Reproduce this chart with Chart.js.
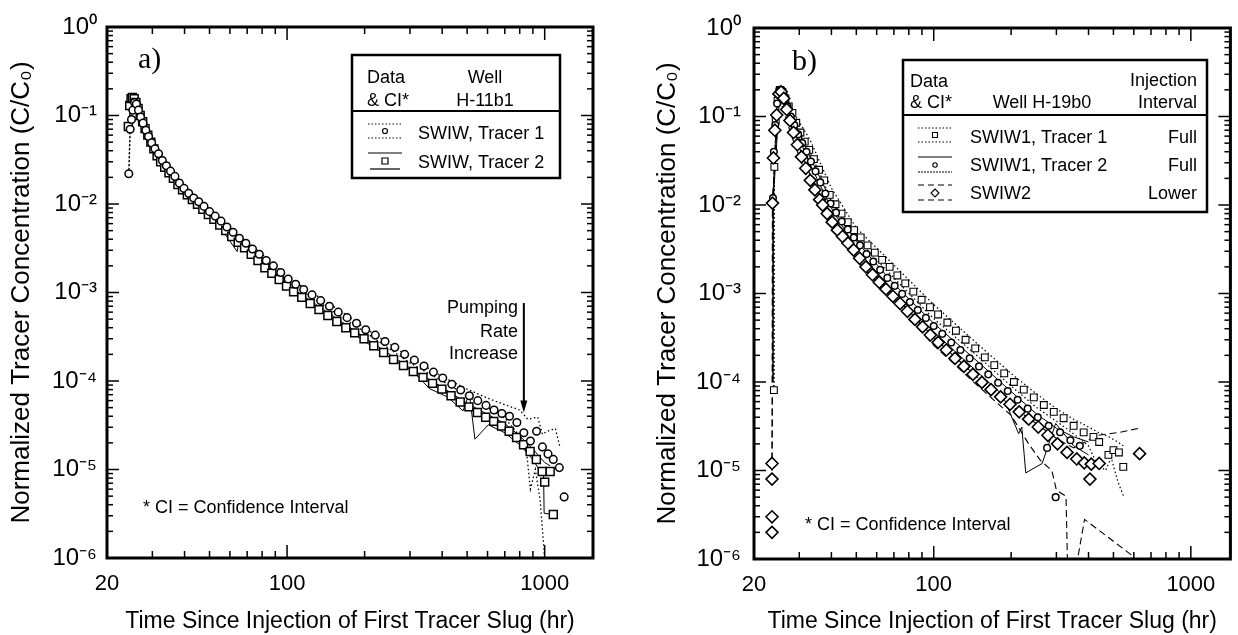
<!DOCTYPE html>
<html>
<head>
<meta charset="utf-8">
<script src="https://cdn.jsdelivr.net/npm/chart.js@4.4.1/dist/chart.umd.min.js"></script>
<style>
  body { margin: 0; background: #fff; }
  #wrap { position: relative; width: 1238px; height: 635px; }
  canvas { position: absolute; top: 0; }
</style>
</head>
<body>
<div id="wrap">
  <canvas id="chartA" width="619" height="635" style="left:0"></canvas>
  <canvas id="chartB" width="619" height="635" style="left:619px"></canvas>
</div>
<script>
// ---- tick labels and titles ----
const xTickLabels = [20, 100, 1000];
const yTickLabels = [1e-6, 1e-5, 1e-4, 1e-3, 1e-2, 1e-1, 1];
const xTitle = 'Time Since Injection of First Tracer Slug (hr)';
const yTitle = 'Normalized Tracer Concentration (C/C\u2080)';

// ---- panel a) well H-11b1 : [time hr, C/C0] ----
const aTracer1 = [[24.3,0.022],[24.6,0.07],[24.9,0.09],[25.2,0.115],[25.6,0.14],[26.0,0.135],[26.5,0.115],[27.0,0.096],
  [27.6,0.082],[28.3,0.068],[29.0,0.058],[29.8,0.049],[30.7,0.042],[31.7,0.037],[32.8,0.031],[34.0,0.027],[35.3,0.0235],
  [36.7,0.0205],[38.2,0.0172],[39.8,0.015],[41.5,0.0132],[43.4,0.0117],[45.4,0.0106],[47.6,0.0094],[50.0,0.0082],
  [52.6,0.0073],[55.4,0.0064],[58.4,0.0055],[61.7,0.0048],[65.3,0.0041],[69.2,0.0036],[73.4,0.0031],[78.0,0.0027],
  [83.0,0.0023],[88.5,0.002],[94.5,0.00168],[101,0.00142],[108,0.00124],[116,0.00108],[125,0.00094],[135,0.00081],
  [146,0.0007],[158,0.0006],[171,0.00052],[186,0.00045],[202,0.00038],[220,0.00033],[240,0.00028],[262,0.00024],
  [286,0.0002],[312,0.000172],[340,0.000148],[370,0.000126],[402,0.000108],[436,0.000092],[472,0.000079],[510,0.000068],
  [550,0.00006],[592,0.000053],[636,0.000047],[682,0.000043],[730,0.00004],[780,0.000034],[830,0.000026],[880,0.000021],
  [930,0.000027],[980,0.000018],[1030,0.000015],[1080,0.000013],[1140,0.0000105],[1190,0.0000049]];
const aTracer2 = [[24.2,0.075],[24.5,0.13],[24.8,0.155],[25.1,0.16],[25.5,0.155],[25.9,0.14],[26.4,0.12],[26.9,0.1],
  [27.5,0.085],[28.1,0.071],[28.8,0.06],[29.6,0.05],[30.4,0.042],[31.3,0.035],[32.3,0.03],[33.5,0.026],[34.8,0.0225],
  [36.2,0.0195],[37.7,0.0166],[39.3,0.0145],[41.0,0.0127],[42.9,0.0112],[44.9,0.0099],[47.1,0.0087],[49.5,0.0076],
  [52.0,0.0067],[54.8,0.0058],[57.8,0.005],[61.0,0.0043],[64.6,0.0037],[68.4,0.0032],[72.6,0.0027],[77.1,0.0023],
  [82.0,0.0019],[87.3,0.00165],[93.2,0.0014],[99.5,0.00118],[106,0.00102],[114,0.00088],[123,0.00075],[133,0.00064],
  [144,0.00055],[156,0.00047],[169,0.0004],[183,0.00035],[199,0.0003],[217,0.00025],[237,0.00021],[259,0.000175],
  [283,0.00015],[309,0.000128],[337,0.00011],[367,0.000094],[399,0.000081],[433,0.000068],[470,0.000058],[508,0.000051],
  [548,0.000044],[590,0.000039],[634,0.000035],[680,0.000031],[728,0.000027],[778,0.000023],[828,0.000019],[878,0.000016],
  [928,0.000013],[978,0.0000095],[1000,0.0000072],[1050,0.0000095],[1080,0.0000031]];
const aTracer1Upper = [[24.3,0.024],[24.6,0.08],[25.5,0.15],[27,0.105],[30,0.052],[35,0.025],[40,0.0148],[50,0.0085],
  [60,0.0054],[80,0.0027],[100,0.0015],[150,0.00071],[200,0.0004],[300,0.000185],[400,0.000112],[500,0.000081],
  [600,0.000064],[700,0.000054],[800,0.000047],[860,0.000037],[940,0.000039],[980,0.000025],[1020,0.000027],
  [1100,0.000029],[1146,0.000018]];
const aTracer1Lower = [[24.3,0.02],[24.6,0.065],[25.5,0.13],[27,0.09],[30,0.045],[35,0.021],[40,0.0135],[50,0.0077],
  [60,0.0048],[80,0.0024],[100,0.00135],[150,0.00062],[200,0.00036],[300,0.00016],[400,0.0001],[500,0.000068],
  [600,0.00005],[700,0.000038],[800,0.000024],[850,0.000016],[880,0.000006],[920,0.00001],[960,0.0000045],
  [995,0.0000012],[1000,0.0000008]];
const aTracer2Upper = [[24.2,0.08],[25,0.16],[27,0.1],[30,0.048],[35,0.022],[40,0.0138],[50,0.0078],[60,0.0047],
  [80,0.0022],[100,0.00122],[150,0.00055],[200,0.00031],[300,0.00014],[400,0.000085],[500,0.000056],[600,0.000042],
  [700,0.000033],[800,0.000024],[900,0.000017],[1000,0.000012],[1050,0.000011]];
const aTracer2Lower = [[24.2,0.07],[25,0.15],[27,0.095],[30,0.045],[35,0.021],[40,0.013],[50,0.0072],[53.4,0.0062],
  [64,0.0029],[65.5,0.0042],[80,0.0021],[100,0.00112],[150,0.0005],[200,0.00028],[250,0.000185],[300,0.000135],
  [327,0.000108],[357,0.000082],[420,0.000066],[482,0.000046],[510,0.000073],[536,0.000022],[604,0.000032],
  [700,0.000026],[800,0.000019],[900,0.000013],[960,0.0000095],[990,0.000009],[995,0.0000032],[1078,0.0000031]];

// ---- panel b) well H-19b0 ----
const bSwiw1Tracer1 = [[23.9,0.000081],[24.0,0.027],[24.3,0.09],[24.7,0.15],[25.2,0.2],[25.8,0.19],[26.5,0.16],
  [27.3,0.13],[28.2,0.11],[29.2,0.085],[30.3,0.066],[31.5,0.052],[32.8,0.042],[34.2,0.033],[35.8,0.025],[37.5,0.019],
  [39.4,0.013],[41.5,0.0102],[43.8,0.008],[46.3,0.0064],[49.0,0.0052],[52.0,0.0043],[55.3,0.0035],[59.0,0.0029],
  [63.0,0.0024],[67.4,0.002],[72.2,0.0016],[77.5,0.0013],[83.3,0.00105],[89.7,0.00085],[96.7,0.0007],[104,0.00058],
  [113,0.00047],[122,0.00038],[133,0.0003],[145,0.00024],[158,0.00019],[172,0.000155],[188,0.000125],[205,0.0001],
  [224,0.000082],[245,0.000067],[268,0.000055],[293,0.000046],[320,0.000039],[350,0.000032],[383,0.000027],
  [418,0.000024],[440,0.000021],[478,0.000015],[500,0.000017],[525,0.000016],[546,0.000011]];
const bSwiw1Tracer2 = [[23.7,0.012],[23.9,0.04],[24.2,0.08],[24.6,0.14],[25.1,0.2],[25.6,0.2],[26.2,0.17],[27.0,0.13],
  [27.8,0.1],[28.7,0.08],[29.7,0.063],[30.8,0.05],[32.0,0.04],[33.3,0.031],[34.7,0.024],[36.2,0.018],[37.9,0.0135],
  [39.7,0.0104],[41.7,0.0082],[43.9,0.0065],[46.3,0.0053],[48.9,0.0043],[51.7,0.0035],[54.8,0.0028],[58.2,0.0023],
  [61.9,0.00185],[66.0,0.0015],[70.5,0.00122],[75.4,0.00099],[80.8,0.0008],[86.7,0.00065],[93.2,0.00053],[100,0.00043],
  [108,0.00035],[117,0.00028],[127,0.00023],[138,0.000185],[150,0.00015],[163,0.000122],[178,0.000098],[194,0.000079],
  [212,0.000063],[232,0.00005],[254,0.00004],[276,0.000018],[280,0.000032],[298,0.000005],[310,0.000027],
  [340,0.000022],[370,0.000019]];
const bSwiw2 = [[23.5,0.000002],[23.5,0.000003],[23.5,0.000008],[23.5,0.000012],[23.6,0.0105],[23.8,0.034],[24.1,0.07],
  [24.5,0.104],[25.0,0.18],[25.5,0.19],[26.1,0.16],[26.8,0.12],[27.6,0.09],[28.5,0.066],[29.5,0.048],[30.6,0.035],
  [31.8,0.026],[33.1,0.019],[34.5,0.0148],[36.0,0.0115],[37.0,0.01],[38.5,0.008],[40.3,0.0064],[42.2,0.0052],
  [44.2,0.0044],[46.4,0.0037],[48.8,0.0031],[51.5,0.0025],[54.5,0.002],[57.8,0.00163],[61.4,0.00134],[65.2,0.00112],
  [69.4,0.00093],[74,0.00077],[79,0.00063],[84.5,0.00051],[90.5,0.00042],[97,0.00034],[104,0.00028],[112,0.00023],
  [121,0.000185],[131,0.00015],[142,0.000122],[154,0.000099],[167,0.000082],[182,0.000068],[198,0.000056],
  [215,0.000046],[234,0.000038],[255,0.000031],[278,0.000025],[303,0.00002],[330,0.000016],[360,0.0000135],
  [385,0.0000122],[405,0.000008],[410,0.0000118],[440,0.000012],[632,0.0000155]];
const bTracer1Upper = [[23.9,0.00008],[24.0,0.03],[24.7,0.16],[25.2,0.21],[28,0.12],[33,0.055],[40,0.0155],[50,0.0055],
  [70,0.0021],[100,0.00075],[150,0.00026],[200,0.000125],[250,0.000074],[300,0.00005],[350,0.000038],[400,0.000031],
  [436,0.000027],[480,0.000024],[520,0.000021],[546,0.000019]];
const bTracer1Lower = [[23.9,0.00008],[24.0,0.025],[25.2,0.19],[28,0.1],[33,0.04],[40,0.0115],[50,0.0042],[70,0.0015],
  [100,0.00052],[150,0.00019],[200,0.00009],[250,0.000052],[300,0.000036],[350,0.000026],[400,0.000019],[430,0.000012],
  [466,0.00001],[490,0.000014],[520,0.0000075],[546,0.0000052]];
const bTracer2Upper = [[23.7,0.0001],[23.7,0.012],[24.6,0.15],[25.2,0.21],[28,0.105],[33,0.035],[40,0.011],[50,0.0039],
  [70,0.00128],[100,0.00046],[150,0.000165],[200,0.000078],[250,0.000044],[300,0.00003],[350,0.000024],[400,0.000021]];
const bTracer2Lower = [[23.7,0.0001],[23.8,0.012],[25.2,0.19],[28,0.09],[33,0.029],[40,0.0092],[50,0.0032],[70,0.00105],
  [100,0.00037],[150,0.000125],[185,0.000072],[214,0.000026],[220,0.000031],[228,0.0000094],[264,0.000012],
  [298,0.000034],[350,0.000019],[400,0.000015]];
const bSwiw2Upper = [[23.5,0.00001],[23.6,0.0001],[23.6,0.011],[25,0.19],[28,0.075],[33,0.022],[40,0.0071],[50,0.0029],
  [70,0.00095],[100,0.00032],[150,0.000108],[200,0.000054],[250,0.000034],[300,0.000023],[350,0.000018],[436,0.000025],
  [530,0.000027],[627,0.00003]];
const bSwiw2Lower = [[23.5,0.00001],[23.6,0.011],[25,0.17],[28,0.06],[33,0.017],[40,0.0057],[50,0.0024],[70,0.0008],
  [100,0.00026],[150,0.000088],[200,0.000042],[234,0.00002],[260,0.000013],[288,0.00001],[300,0.000006],[327,0.0000051],
  [332,0.0000007],[355,0.0000007],[386,0.0000028],[590,0.0000011],[650,0.0000008]];

const legendA = ['SWIW, Tracer 1', 'SWIW, Tracer 2'];
const legendB = ['SWIW1, Tracer 1', 'SWIW1, Tracer 2', 'SWIW2'];
const intervalB = ['Full', 'Full', 'Lower'];

// pumping rate change arrow (time, from, to)
const pumpTime = 830, pumpFrom = 0.00076, pumpTo = 0.000044;

const FONT = '"Liberation Sans", Arial, sans-serif';
const SUP = {'-': '\u207B', '0': '\u2070', '1': '\u00B9', '2': '\u00B2', '3': '\u00B3', '4': '\u2074', '5': '\u2075', '6': '\u2076'};
function powerLabel(v) {
  const e = Math.round(Math.log10(v));
  return '10' + String(e).split('').map(c => SUP[c]).join('');
}

function pts(arr) { return arr.map(p => ({x: p[0], y: p[1]})); }
function marks(arr, style, r, bw) {
  return {data: pts(arr), showLine: false, pointStyle: style, pointRadius: r, pointHoverRadius: r,
    pointBorderWidth: bw, pointBackgroundColor: '#fff', pointBorderColor: '#000', borderColor: '#000'};
}
function band(arr, dash, w) {
  return {data: pts(arr), showLine: true, pointRadius: 0, pointHoverRadius: 0, borderColor: '#000',
    borderWidth: w, borderDash: dash, fill: false, tension: 0};
}

function seg(ctx, x1, y1, x2, y2, dash) {
  ctx.setLineDash(dash || []);
  ctx.beginPath(); ctx.moveTo(x1, y1); ctx.lineTo(x2, y2); ctx.stroke();
  ctx.setLineDash([]);
}
function txt(ctx, s, x, y, align, size, family) {
  ctx.font = (size || 18) + 'px ' + (family || FONT);
  ctx.textAlign = align || 'left';
  ctx.textBaseline = 'alphabetic';
  ctx.fillText(s, x, y);
}
function marker(ctx, style, x, y, r) {
  ctx.beginPath();
  if (style === 'circle') ctx.arc(x, y, r, 0, Math.PI * 2);
  else if (style === 'rect') ctx.rect(x - r, y - r, 2 * r, 2 * r);
  else { ctx.moveTo(x, y - r); ctx.lineTo(x + r, y); ctx.lineTo(x, y + r); ctx.lineTo(x - r, y); ctx.closePath(); }
  ctx.fillStyle = '#fff'; ctx.fill(); ctx.stroke(); ctx.fillStyle = '#000';
}

// frame with inward ticks on all four sides
const frameTicks = {
  id: 'frameTicks',
  afterDraw(chart) {
    const {ctx, chartArea: a, scales: {x, y}} = chart;
    ctx.save();
    ctx.strokeStyle = '#000';
    ctx.lineWidth = 1.5;
    for (let d = 10; d <= 1000; d *= 10) {
      for (let m = 1; m <= 9; m++) {
        const v = d * m;
        if (v <= x.min || v >= x.max) continue;
        const px = x.getPixelForValue(v);
        const len = m === 1 ? 13 : 7;
        seg(ctx, px, a.bottom, px, a.bottom - len);
        seg(ctx, px, a.top, px, a.top + len);
      }
    }
    for (let e = -6; e < 0; e++) {
      for (let m = 1; m <= 9; m++) {
        const v = m * Math.pow(10, e);
        const py = y.getPixelForValue(v);
        const len = m === 1 ? 12 : 6;
        seg(ctx, a.left, py, a.left + len, py);
        seg(ctx, a.right, py, a.right - len, py);
      }
    }
    ctx.lineWidth = 3;
    ctx.strokeRect(a.left, a.top, a.right - a.left, a.bottom - a.top);
    ctx.restore();
  }
};

const notesA = {
  id: 'notesA',
  afterDraw(chart) {
    const {ctx, scales: {x, y}} = chart;
    ctx.save();
    ctx.fillStyle = '#000'; ctx.strokeStyle = '#000';
    txt(ctx, 'a)', 138, 68, 'left', 30, '"Liberation Serif", serif');
    // legend box
    ctx.lineWidth = 2.5;
    ctx.strokeRect(352, 55, 208, 123);
    ctx.lineWidth = 2;
    seg(ctx, 352, 111, 560, 111);
    txt(ctx, 'Data', 367, 83);
    txt(ctx, '& CI*', 367, 106);
    txt(ctx, 'Well', 485, 83, 'center');
    txt(ctx, 'H-11b1', 485, 106, 'center');
    txt(ctx, legendA[0], 418, 139);
    txt(ctx, legendA[1], 418, 168);
    ctx.lineWidth = 1.2;
    seg(ctx, 368, 124, 402, 124, [1.5, 2]);
    seg(ctx, 368, 138, 402, 138, [1.5, 2]);
    marker(ctx, 'circle', 385, 131, 2.5);
    seg(ctx, 368, 153, 402, 153);
    seg(ctx, 370, 169, 400, 169);
    marker(ctx, 'rect', 385, 161, 3);
    // pumping rate note
    txt(ctx, 'Pumping', 518, 313, 'right');
    txt(ctx, 'Rate', 518, 337, 'right');
    txt(ctx, 'Increase', 518, 359, 'right');
    const px = x.getPixelForValue(pumpTime);
    const y1 = y.getPixelForValue(pumpFrom), y2 = y.getPixelForValue(pumpTo);
    ctx.lineWidth = 2;
    seg(ctx, px, y1, px, y2 - 6);
    ctx.beginPath(); ctx.moveTo(px - 3.5, y2 - 12); ctx.lineTo(px, y2); ctx.lineTo(px + 3.5, y2 - 12); ctx.closePath(); ctx.fill();
    txt(ctx, '* CI = Confidence Interval', 143, 513);
    ctx.restore();
  }
};

const notesB = {
  id: 'notesB',
  afterDraw(chart) {
    const {ctx} = chart;
    ctx.save();
    ctx.fillStyle = '#000'; ctx.strokeStyle = '#000';
    txt(ctx, 'b)', 173, 70, 'left', 30, '"Liberation Serif", serif');
    ctx.lineWidth = 2.5;
    ctx.strokeRect(284, 60, 304, 152);
    ctx.lineWidth = 2;
    seg(ctx, 284, 115, 588, 115);
    txt(ctx, 'Data', 291, 87);
    txt(ctx, '& CI*', 291, 108);
    txt(ctx, 'Well H-19b0', 423, 108, 'center');
    txt(ctx, 'Injection', 578, 86, 'right');
    txt(ctx, 'Interval', 578, 108, 'right');
    const rows = [143, 171, 199];
    legendB.forEach((s, i) => { txt(ctx, s, 351, rows[i]); txt(ctx, intervalB[i], 578, rows[i], 'right'); });
    ctx.lineWidth = 1.1;
    seg(ctx, 299, 128, 333, 128, [1.5, 2]);
    seg(ctx, 299, 142, 333, 142, [1.5, 2]);
    marker(ctx, 'rect', 316, 135, 2.5);
    seg(ctx, 299, 157, 333, 157);
    seg(ctx, 299, 172, 333, 172, [2, 1]);
    marker(ctx, 'circle', 316, 165, 2.2);
    seg(ctx, 299, 185, 333, 185, [6, 4]);
    seg(ctx, 299, 200, 333, 200, [6, 4]);
    marker(ctx, 'diamond', 316, 193, 4);
    txt(ctx, '* CI = Confidence Interval', 186, 530);
    ctx.restore();
  }
};

function makeScales(xMax, yWidth, xHeight, labelPad) {
  return {
    x: {
      type: 'logarithmic', position: 'bottom', min: 20, max: xMax,
      afterBuildTicks: s => { s.ticks = xTickLabels.map(v => ({value: v})); },
      afterFit: s => { s.height = xHeight; },
      grid: {display: false, drawTicks: false}, border: {display: false},
      ticks: {autoSkip: false, maxRotation: 0, minRotation: 0, padding: 13, color: '#000',
        font: {family: FONT, size: 22}, callback: v => String(v)},
      title: {display: true, text: xTitle, color: '#000', font: {family: FONT, size: 23}, padding: {top: 0, bottom: 0}}
    },
    y: {
      type: 'logarithmic', position: 'left', min: 1e-6, max: 1,
      afterBuildTicks: s => { s.ticks = yTickLabels.map(v => ({value: v})); },
      afterFit: s => { s.width = yWidth; },
      grid: {display: false, drawTicks: false}, border: {display: false},
      ticks: {autoSkip: false, padding: labelPad, color: '#000', font: {family: FONT, size: 24},
        callback: v => powerLabel(v)},
      title: {display: true, text: yTitle, color: '#000', font: {family: FONT, size: 26}, padding: {top: 6, bottom: 0}}
    }
  };
}

function makeChart(id, datasets, scales, padding, notes) {
  return new Chart(document.getElementById(id), {
    type: 'scatter',
    data: {datasets: datasets},
    options: {
      responsive: false, animation: false, devicePixelRatio: 1,
      layout: {padding: padding},
      plugins: {legend: {display: false}, tooltip: {enabled: false}},
      scales: scales
    },
    plugins: [frameTicks, notes]
  });
}

const DOT = [1.5, 2.5], DASH = [7, 4];

makeChart('chartA', [
  marks(aTracer1, 'circle', 3.8, 1.5),
  marks(aTracer2, 'rect', 5.6, 1.5),
  band(aTracer1Upper, DOT, 1.3),
  band(aTracer1Lower, DOT, 1.3),
  band(aTracer2Upper, [], 1),
  band(aTracer2Lower, [], 1)
], makeScales(1540, 107, 77, 10), {left: 0, top: 27, right: 26, bottom: 0}, notesA);

makeChart('chartB', [
  marks(bSwiw2, 'rectRot', 6, 1.6),
  marks(bSwiw1Tracer2, 'circle', 3.3, 1.5),
  marks(bSwiw1Tracer1, 'rect', 4.8, 1.1),
  band(bTracer1Upper, DOT, 1.2),
  band(bTracer1Lower, DOT, 1.2),
  band(bTracer2Upper, [], 1),
  band(bTracer2Lower, [], 1),
  band(bSwiw2Upper, DASH, 1.1),
  band(bSwiw2Lower, DASH, 1.1)
], makeScales(1425, 108, 76, 13), {left: 27, top: 28, right: 6, bottom: 0}, notesB);
</script>
</body>
</html>
